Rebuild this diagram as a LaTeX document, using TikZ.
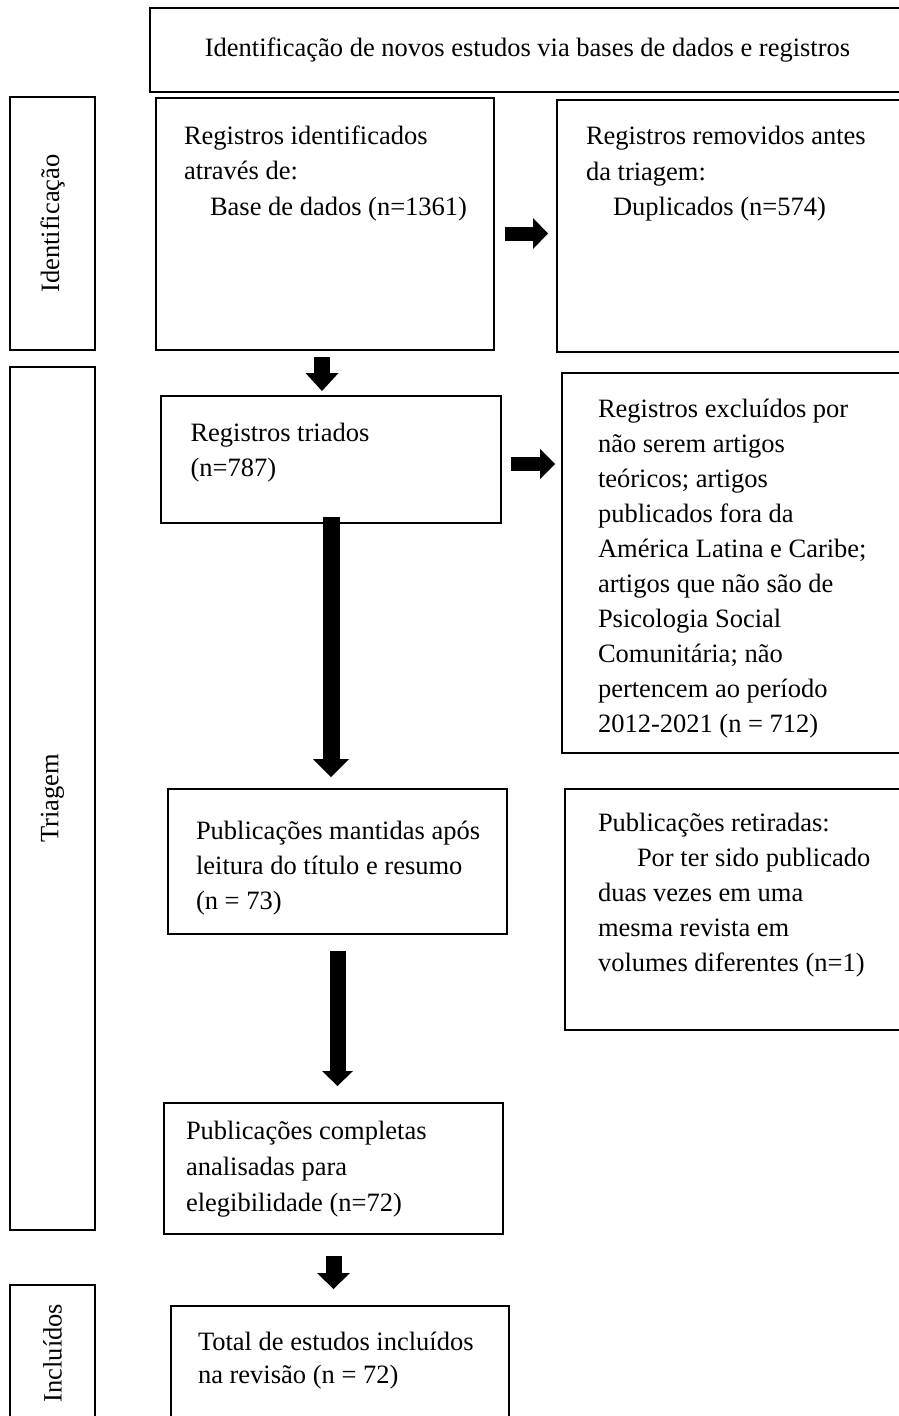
\documentclass[tikz,border=0pt]{standalone}
\usepackage{fontspec}
\setmainfont{Liberation Serif}
\usetikzlibrary{arrows.meta,calc}
\newcommand\mylines[2]{\vtop{\baselineskip=#1\relax\lineskiplimit=-100pt #2}}
\tikzset{
 x=1pt, y=-1pt,
 box/.style={draw, line width=2pt, inner sep=0pt, outer sep=0pt},
 side/.style={box, rotate=90, font=\fontsize{26.5}{30}\selectfont},
 txt/.style={anchor=base west, inner sep=0pt, outer sep=0pt, font=\fontsize{26.5}{33}\selectfont},
 blk/.style n args={3}{draw=black, line width=#1, -{Triangle[length=#2, width=#3, line width=0pt]}},
}
\begin{document}
\begin{tikzpicture}
\useasboundingbox (0,0) rectangle (899,1416);
\clip (0,0) rectangle (899,1416);
% boxes
\node[box, minimum width=755pt, minimum height=84pt, font=\fontsize{26.5}{33}\selectfont] (top) at (527.5,50) {Identificação de novos estudos via bases de dados e registros};
\node[box, minimum width=338pt, minimum height=252pt] (b1) at (325,224) {};
\node[box, minimum width=348pt, minimum height=252pt] (b2) at (731,226) {};
\node[box, minimum width=340pt, minimum height=127pt] (b3) at (331,459.5) {};
\node[box, minimum width=343pt, minimum height=380pt] (b4) at (733.5,563) {};
\node[box, minimum width=339pt, minimum height=145pt] (b5) at (337.5,861.5) {};
\node[box, minimum width=340pt, minimum height=241pt] (b6) at (735,909.5) {};
\node[box, minimum width=339pt, minimum height=131pt] (b7) at (333.5,1168.5) {};
\node[box, minimum width=338pt, minimum height=119pt] (b8) at (340,1365.5) {};
% side labels
\node[side, minimum width=253pt, minimum height=85pt] (s1) at (52.5,223.5) {Identificação};
\node[side, minimum width=863pt, minimum height=85pt] (s2) at (52.5,798.5) {Triagem};
\node[side, minimum width=136pt, minimum height=85pt] (s3) at (52.5,1353) {Incluídos};
% texts
\node[txt] (t1) at (184,144) {\mylines{35.5pt}{\hbox{Registros identificados}\hbox{através de:}\hbox{\hskip26pt Base de dados (n=1361)}}};
\node[txt] (t2) at (586,144.5) {\mylines{35.5pt}{\hbox{Registros removidos antes}\hbox{da triagem:}\hbox{\hskip27pt Duplicados (n=574)}}};
\node[txt] (t3) at (190.5,441) {\mylines{35pt}{\hbox{Registros triados}\hbox{(n=787)}}};
\node[txt] (t4) at (598,417) {\mylines{35.1pt}{\hbox{Registros excluídos por}\hbox{não serem artigos}\hbox{teóricos; artigos}\hbox{publicados fora da}\hbox{América Latina e Caribe;}\hbox{artigos que não são de}\hbox{Psicologia Social}\hbox{Comunitária; não}\hbox{pertencem ao período}\hbox{2012-2021 (n = 712)}}};
\node[txt] (t5) at (196,839) {\mylines{35pt}{\hbox{Publicações mantidas após}\hbox{leitura do título e resumo}\hbox{(n = 73)}}};
\node[txt] (t6) at (598,831.5) {\mylines{35pt}{\hbox{Publicações retiradas:}\hbox{\hskip39pt Por ter sido publicado}\hbox{duas vezes em uma}\hbox{mesma revista em}\hbox{volumes diferentes (n=1)}}};
\node[txt] (t7) at (186,1139) {\mylines{36pt}{\hbox{Publicações completas}\hbox{analisadas para}\hbox{elegibilidade (n=72)}}};
\node[txt] (t8) at (198,1350) {\mylines{33.5pt}{\hbox{Total de estudos incluídos}\hbox{na revisão (n = 72)}}};
% arrows
\draw[blk={16pt}{18pt}{33pt}, shorten <=7pt, shorten >=5pt] ($(b1.south)+(-3,0)$) -- ($(b1.south |- b3.north)+(-3,0)$);
\coordinate (a2) at ($(b1.east)+(0,9.5)$);
\draw[blk={14pt}{15pt}{31pt}, shorten <=11pt, shorten >=9pt] (a2) -- (a2 -| b2.west);
\coordinate (a3) at ($(b3.east)+(0,4.5)$);
\draw[blk={14pt}{15pt}{30pt}, shorten <=10pt, shorten >=7pt] (a3) -- (a3 -| b4.west);
\draw[blk={17pt}{18pt}{36pt}, shorten <=-6pt, shorten >=12pt] (b3.south) -- (b3.south |- b5.north);
\draw[blk={16pt}{15pt}{31pt}, shorten <=17pt, shorten >=17pt] (b5.south) -- (b5.south |- b7.north);
\draw[blk={16pt}{16pt}{33pt}, shorten <=22pt, shorten >=17pt] (b7.south) -- (b7.south |- b8.north);
\end{tikzpicture}
\end{document}
